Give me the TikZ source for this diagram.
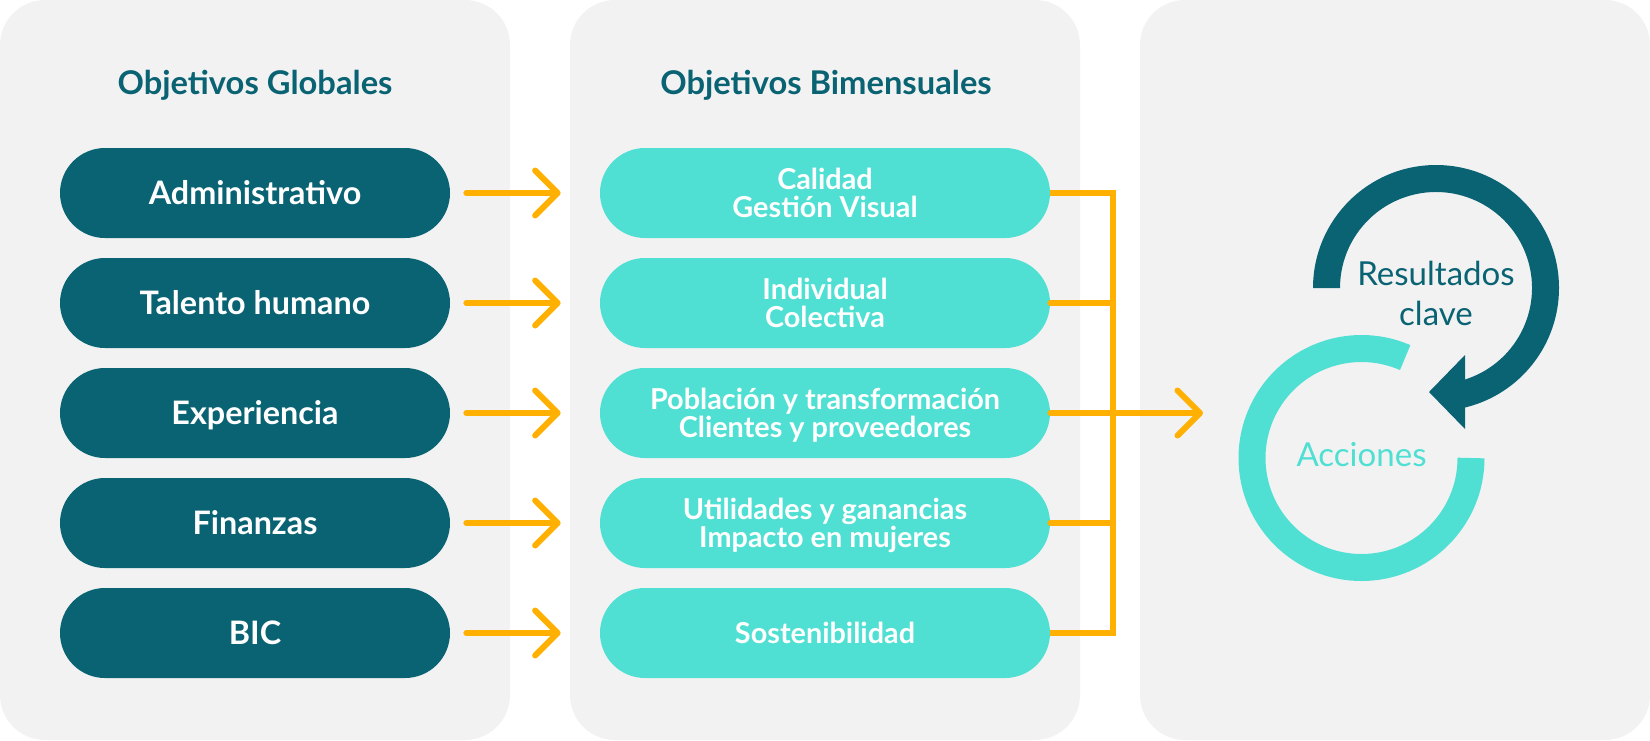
\documentclass[tikz,border=0pt]{standalone}
\usepackage{fontspec}
\setmainfont{Lato}
\usepackage{tikz}
\usetikzlibrary{arrows.meta, positioning, calc}
\definecolor{okrdark}{RGB}{10, 99, 115}
\definecolor{okrcyan}{RGB}{80, 224, 211}
\definecolor{okrgold}{RGB}{255, 176, 0}
\definecolor{okrpanel}{RGB}{242, 242, 242}

\begin{document}
\begin{tikzpicture}[
        panel/.style={fill=okrpanel, rounded corners=0.9cm},
        coltitle/.style={text=okrdark, text height=13.2pt, text depth=0pt,
                   font=\fontsize{18.6}{22}\selectfont\bfseries},
        goal/.style={fill=okrdark, text=white, rounded corners=0.9cm,
                   minimum width=7.8cm, minimum height=1.8cm,
                   text height=13pt, text depth=0pt,
                   font=\fontsize{18.4}{21}\selectfont\bfseries},
        bimes/.style={fill=okrcyan, text=white, rounded corners=0.9cm,
                   minimum width=9cm, minimum height=1.8cm, align=center,
                   text depth=0pt,
                   font=\fontsize{16.4}{15.8}\selectfont\bfseries},
        wire/.style={okrgold, line width=0.12cm, line cap=round},
        feed/.style={-{Straight Barb[length=0.45cm, width=0.9cm, round]}},
        cyclabel/.style={font=\fontsize{18.8}{22.8}\selectfont, align=center},
      ]
        \useasboundingbox (0,0) rectangle (33,-14.8);

        % three columns
        \fill[panel] (0,0) rectangle (10.2,-14.8);
        \fill[panel] (11.4,0) rectangle (21.6,-14.8);
        \fill[panel] (22.8,0) rectangle (33,-14.8);

        \node[coltitle] (tg) at (5.1,-1.65) {Objetivos Globales};
        \node[coltitle] (tb) at (16.52,-1.66) {Objetivos Bimensuales};

        \node[goal] (g1) at (5.1,-3.86) {Administrativo};
        \node[goal] (g2) at (5.1,-6.06) {Talento humano};
        \node[goal] (g3) at (5.1,-8.26) {Experiencia};
        \node[goal] (g4) at (5.1,-10.46) {Finanzas};
        \node[goal] (g5) at (5.1,-12.66) {BIC};

        \node[bimes] (b1) at (16.5,-3.86) {Calidad\\Gestión Visual};
        \node[bimes] (b2) at (16.5,-6.06) {Individual\\Colectiva};
        \node[bimes] (b3) at (16.5,-8.26) {Población y transformación\\Clientes y proveedores};
        \node[bimes] (b4) at (16.5,-10.46) {Utilidades y ganancias\\Impacto en mujeres};
        \node[bimes] (b5) at (16.5,-12.66) {Sostenibilidad};

        \foreach \i in {1,...,5}
          \draw[wire, feed, shorten <=0.32cm, shorten >=0.78cm] (g\i) -- (b\i);

        % collector
        \coordinate (bus) at (22.26,-8.26);
        \coordinate (out) at (24.06,-8.26);
        \draw[wire, line cap=butt] (b1.east) -- (b1.east -| bus) -- (b5.east -| bus) -- (b5.east);
        \draw[wire] (b2.east) -- (b2.east -| bus);
        \draw[wire] (b4.east) -- (b4.east -| bus);
        \draw[wire, feed] (b3.east) -- (out);

        % cycle
        \coordinate (ac) at (27.23,-9.16);
        \coordinate (rc) at (28.72,-5.76);
        \draw[okrcyan, line width=0.54cm]
          ([shift={(0:2.19)}]ac) arc[start angle=0, end angle=-293.5, radius=2.19];
        \fill[okrdark] ([shift={(180:2.46)}]rc)
          arc[start angle=180, end angle=-76.4, radius=2.46]
          -- ([shift={(-72.4:1.92)}]rc)
          arc[start angle=-72.4, end angle=180, radius=1.92] -- cycle;
        \fill[okrdark] ($(rc)+(0.58,-1.34)$) -- ($(rc)+(-0.14,-2.08)$)
          -- ($(rc)+(0.58,-2.82)$) -- cycle;

        \node[cyclabel, text=okrdark] (kr) at ($(rc)+(0,-0.1)$) {Resultados\\clave};
        \node[cyclabel, text=okrcyan] (acc) at ($(ac)+(0,0.07)$) {Acciones};
      \end{tikzpicture}
\end{document}
